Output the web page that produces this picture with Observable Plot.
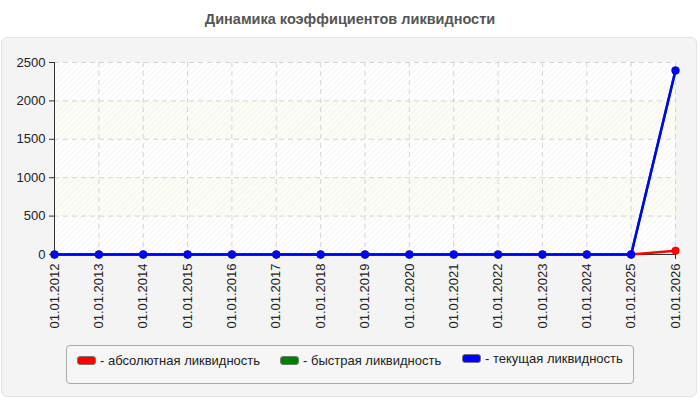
<!DOCTYPE html>
<html><head><meta charset="utf-8">
<script src="https://cdn.jsdelivr.net/npm/d3@7"></script>
<script src="https://cdn.jsdelivr.net/npm/@observablehq/plot@0.6"></script>
<style>
body{margin:0;width:700px;height:400px;background:#fff;font-family:"Liberation Sans",Arial,sans-serif;position:relative;overflow:hidden}
#title{position:absolute;left:0;top:11px;width:700px;text-align:center;font-weight:bold;font-size:14.5px;color:#555}
#panel{position:absolute;left:1px;top:37px;width:696px;height:360px;background:#f4f4f4;border:1px solid #e2e2e2;border-radius:6px;box-sizing:border-box}
#chart{position:absolute;left:0;top:37px}
#legend{position:absolute;left:66px;top:345px;width:568px;height:39px;border:1px solid #aaa;border-radius:4px;box-sizing:border-box;background:#f6f6f6}
.item{position:absolute;height:16px;display:flex;align-items:center;font-size:13px;color:#222;white-space:nowrap}
.sw{display:inline-block;width:17px;height:7px;border-radius:3px;border:1px solid #777;margin-right:4px}
</style>
</head><body>
<div id="title">Динамика коэффициентов ликвидности</div>
<div id="panel"></div>
<div id="chart"></div>
<div id="legend"></div>
<script>
const dates = ["01.01.2012","01.01.2013","01.01.2014","01.01.2015","01.01.2016","01.01.2017","01.01.2018","01.01.2019","01.01.2020","01.01.2021","01.01.2022","01.01.2023","01.01.2024","01.01.2025","01.01.2026"];
const absolute = [0,0,0,0,0,0,0,0,0,0,0,0,0,0,50];
const quick    = [0,0,0,0,0,0,0,0,0,0,0,0,0,0,2395];
const current  = [0,0,0,0,0,0,0,0,0,0,0,0,0,0,2395];
const yTicks = [0,500,1000,1500,2000,2500];
const seriesNames = ["абсолютная ликвидность","быстрая ликвидность","текущая ликвидность"];
const seriesColors = ["#ff0000","#008000","#0000ff"];
const seriesValues = [absolute, quick, current];

const series = seriesNames.map((name, i) => ({
  name, color: seriesColors[i],
  rows: dates.map((d, j) => ({date: d, value: seriesValues[i][j]}))
}));

const bands = yTicks.slice(0, -1).map((v, i) => ({y1: v, y2: yTicks[i + 1], fill: i % 2 === 0 ? "#ffffff" : "#fdfdf6"}));

const marks = [
  Plot.rect(bands, {y1: "y1", y2: "y2", fill: "fill"}),
  Plot.frame({fill: "url(#hatch)", stroke: "none"}),
  Plot.gridY(yTicks, {stroke: "#d4d4d4", strokeOpacity: 1, strokeDasharray: "5,4"}),
  Plot.gridX(dates, {stroke: "#d4d4d4", strokeOpacity: 1, strokeDasharray: "5,4"}),
  Plot.axisY(yTicks, {tickSize: 5, tickPadding: 4, fontSize: 13, color: "#222", stroke: "#333", tickFormat: d => String(d), label: null}),
  Plot.axisX(dates, {tickRotate: -90, tickSize: 5, tickPadding: 4, fontSize: 13, color: "#222", stroke: "#333", label: null}),
  Plot.ruleY([0], {stroke: "#333"}),
  Plot.ruleX([dates[0]], {y1: 0, y2: 2500, stroke: "#333"})
];
for (const s of series) {
  marks.push(Plot.line(s.rows, {x: "date", y: "value", stroke: s.color, strokeWidth: 2.5}));
  marks.push(Plot.dot(s.rows, {x: "date", y: "value", fill: s.color, r: 4}));
}

const svg = Plot.plot({
  width: 700, height: 300,
  marginLeft: 54, marginRight: 25, marginTop: 25, marginBottom: 83,
  style: {background: "transparent", fontFamily: "'Liberation Sans', Arial, sans-serif"},
  x: {type: "point", domain: dates, padding: 0, round: false, axis: null},
  y: {domain: [0, 2500], axis: null},
  color: {type: "identity"},
  marks
});
d3.select(svg).insert("defs", ":first-child").html(
  '<pattern id="hatch" patternUnits="userSpaceOnUse" width="4" height="4" patternTransform="rotate(45)">' +
  '<line x1="0" y1="0" x2="0" y2="4" stroke="#ececec" stroke-width="1.2"/></pattern>');
document.getElementById("chart").appendChild(svg);

const pos = [{left: 10, top: 6}, {left: 213, top: 6}, {left: 395, top: 4}];
const legend = document.getElementById("legend");
series.forEach((s, i) => {
  const it = document.createElement("div");
  it.className = "item";
  it.style.left = pos[i].left + "px";
  it.style.top = pos[i].top + "px";
  it.innerHTML = `<span class="sw" style="background:${s.color}"></span>- ${s.name}`;
  legend.appendChild(it);
});
</script>
</body></html>
